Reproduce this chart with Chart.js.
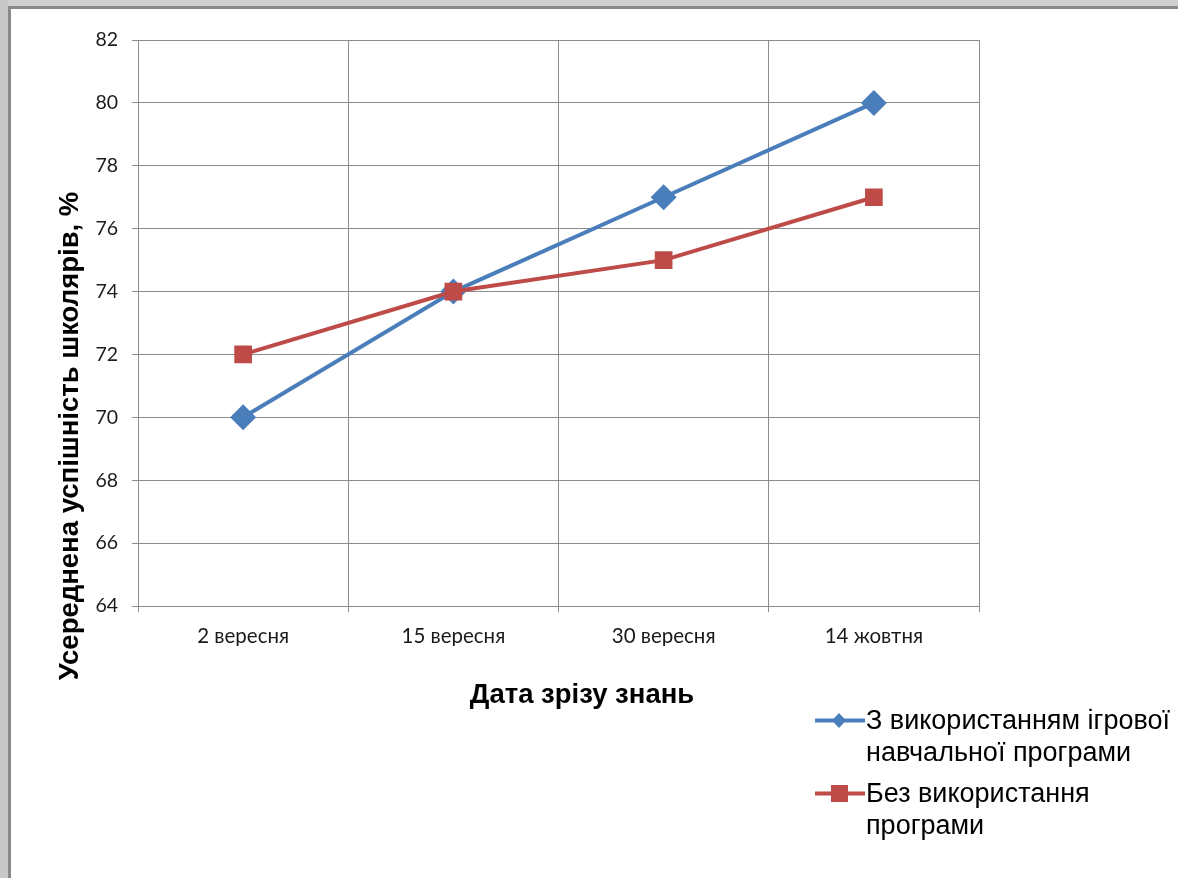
<!DOCTYPE html>
<html>
<head>
<meta charset="utf-8">
<script src="https://cdn.jsdelivr.net/npm/chart.js@4"></script>
<style>
  html, body { margin: 0; padding: 0; background: #fff; }
  #wrap { position: relative; width: 1178px; height: 878px; overflow: hidden; background: #fff; }
  #c { position: absolute; left: 0; top: 0; }
  .frameTop { position: absolute; left: 0; top: 0; width: 1178px; height: 6px; background: #cfcfcf; }
  .frameTopLine { position: absolute; left: 8px; top: 6px; width: 1170px; height: 3px; background: #8a8a8a; }
  .frameLeft { position: absolute; left: 0; top: 0; width: 8px; height: 878px; background: #c8c8c8; }
  .frameLeftLine { position: absolute; left: 8px; top: 6px; width: 3px; height: 872px; background: #8a8a8a; }
  .legend { position: absolute; left: 814px; top: 704px; font-family: "Liberation Sans", Arial, sans-serif; font-size: 27px; color: #000; white-space: nowrap; }
  .item { position: relative; padding-left: 52px; line-height: 32px; margin-bottom: 9px; }
  .item svg { position: absolute; left: 0; top: 3px; }
</style>
</head>
<body>
<div id="wrap">
  <canvas id="c" width="1178" height="878"></canvas>
  <div class="frameTop"></div>
  <div class="frameLeft"></div>
  <div class="frameTopLine"></div>
  <div class="frameLeftLine"></div>
  <div class="legend" id="legend"></div>
</div>
<script>
const categories = ["2 вересня", "15 вересня", "30 вересня", "14 жовтня"];
const seriesNames = ["З використанням ігрової навчальної програми", "Без використання програми"];
const withGame = [70, 74, 77, 80];
const withoutGame = [72, 74, 75, 77];
const yTicks = [64, 66, 68, 70, 72, 74, 76, 78, 80, 82];
const xTitle = "Дата зрізу знань";
const yTitle = "Усереднена успішність школярів, %";

const BLUE = "#4a7ebb";
const RED = "#be4b48";
const GRID = "#8c8c8c";

const titlesPlugin = {
  id: "titles",
  afterDraw(chart) {
    const ctx = chart.ctx;
    ctx.save();
    ctx.fillStyle = "#000";
    ctx.font = "bold 27.5px 'Liberation Sans', Arial, sans-serif";
    ctx.textAlign = "center";
    ctx.textBaseline = "middle";
    ctx.fillText(xTitle, 582, 695);
    ctx.translate(70, 436);
    ctx.rotate(-Math.PI / 2);
    ctx.fillText(yTitle, 0, 0);
    ctx.restore();
  }
};

const chart = new Chart(document.getElementById("c"), {
  type: "line",
  data: {
    labels: categories,
    datasets: [
      {
        label: seriesNames[0],
        data: withGame,
        borderColor: BLUE,
        backgroundColor: BLUE,
        borderWidth: 4,
        pointStyle: "rectRot",
        pointRadius: 13,
        pointHoverRadius: 13,
        pointBorderWidth: 0,
        tension: 0,
        order: 1
      },
      {
        label: seriesNames[1],
        data: withoutGame,
        borderColor: RED,
        backgroundColor: RED,
        borderWidth: 4,
        pointStyle: "rect",
        pointRadius: 12.5,
        pointHoverRadius: 12.5,
        pointBorderWidth: 0,
        tension: 0,
        order: 0
      }
    ]
  },
  options: {
    responsive: false,
    animation: false,
    events: [],
    layout: { padding: { left: 78, right: 199, top: 40, bottom: 232 } },
    plugins: { legend: { display: false }, tooltip: { enabled: false } },
    scales: {
      x: {
        type: "category",
        offset: true,
        grid: { offset: true, color: GRID, lineWidth: 1, tickLength: 6, drawTicks: true },
        border: { color: GRID, width: 1 },
        ticks: {
          color: "#1a1a1a",
          font: { family: "Lato, 'Open Sans', sans-serif", size: 20.5 },
          padding: 12,
          maxRotation: 0
        },
        afterFit(scale) { scale.height = 40; }
      },
      y: {
        min: 64,
        max: 82,
        afterBuildTicks(scale) { scale.ticks = yTicks.map(v => ({ value: v })); },
        grid: { color: GRID, lineWidth: 1, tickLength: 6 },
        border: { color: GRID, width: 1 },
        ticks: {
          color: "#1a1a1a",
          font: { family: "Lato, 'Open Sans', sans-serif", size: 19.5 },
          padding: 14
        },
        afterFit(scale) { scale.width = 60; }
      }
    }
  },
  plugins: [titlesPlugin]
});

// legend in HTML, built from the datasets
const legend = document.getElementById("legend");
const legendLines = [["З використанням ігрової", "навчальної програми"], ["Без використання", "програми"]];
chart.data.datasets.forEach((ds, i) => {
  const div = document.createElement("div");
  div.className = "item";
  const marker = ds.pointStyle === "rect"
    ? `<rect x="17" y="5" width="17" height="17" fill="${ds.borderColor}"/>`
    : `<polygon points="25,6 32,13.5 25,21 18,13.5" fill="${ds.borderColor}"/>`;
  div.innerHTML = `<svg width="52" height="27"><line x1="1" y1="13.5" x2="51" y2="13.5" stroke="${ds.borderColor}" stroke-width="4"/>${marker}</svg>` +
    legendLines[i].join("<br>");
  legend.appendChild(div);
});
</script>
</body>
</html>
